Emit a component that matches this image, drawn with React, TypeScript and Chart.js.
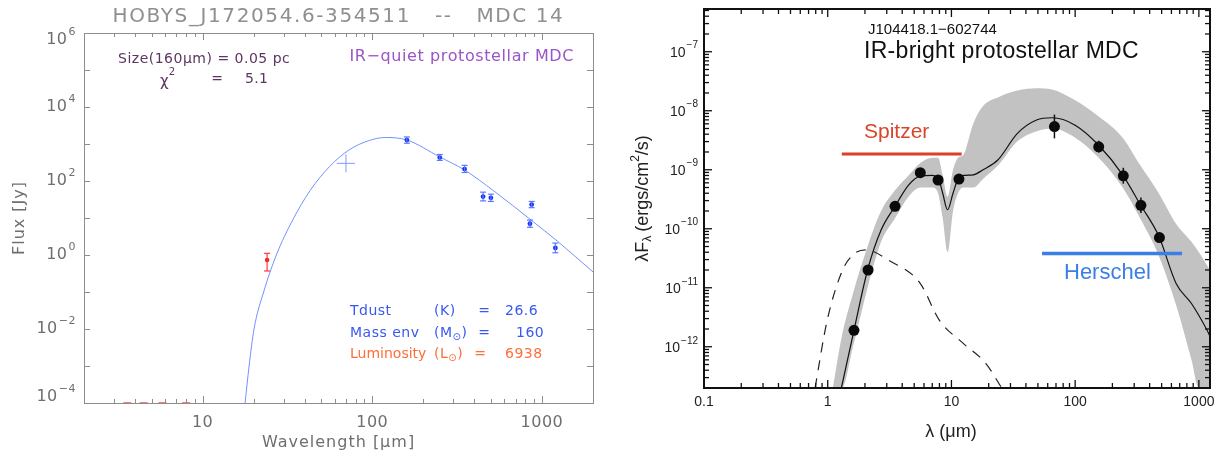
import React, { useEffect, useRef } from "react";
import { Chart, registerables } from "chart.js";
Chart.register(...registerables);

// ================= LEFT PANEL DATA (HOBYS MDC 14) =================
const leftTitle = "HOBYS_J172054.6-354511   --   MDC 14";
const leftModelWavelength = [17.8, 18.8, 20.1, 22.9, 27.2, 34, 43, 56, 73, 96, 120, 160, 250, 350, 520, 870, 1230, 2000];
const leftModelFlux = [1e-4, 1e-3, 1e-2, 0.1, 1, 8.9, 55, 245, 690, 1245, 1500, 1280, 446, 198, 54, 8.55, 2.39, 0.348];
const leftBlueWavelength = [160, 250, 350, 450, 500, 850, 870, 1200];
const leftBlueFlux = [1280, 430, 210, 38, 35, 7, 23, 1.55];
const leftBlueErrLow = [1050, 360, 170, 29, 28, 5.6, 19, 1.15];
const leftBlueErrHigh = [1550, 520, 265, 50, 44, 8.8, 28, 2.1];
const leftRedWavelength = [24];
const leftRedFlux = [0.73];
const leftRedErrLow = [0.37];
const leftRedErrHigh = [1.11];
const leftCrossWavelength = [70];
const leftCrossFlux = [300];
const leftLimitWavelength = [3.6, 4.5, 5.8, 8.0];
const leftLimitFlux = [1e-4, 1e-4, 1e-4, 1e-4];
const leftXTickValues = [10, 100, 1000];
const leftXTickLabels = ["10", "100", "1000"];
const leftYTickExponents = [-4, -2, 0, 2, 4, 6];

// ================= RIGHT PANEL DATA (J104418.1-602744) =================
const rightName = "J104418.1\u2212602744";
const rightClass = "IR-bright protostellar MDC";
const rightObsWavelength = [1.63, 2.12, 3.5, 5.6, 7.8, 11.5, 68, 155, 245, 340, 480];
const rightObsFlux = [1.9e-12, 2.0e-11, 2.4e-10, 8.9e-10, 6.7e-10, 6.95e-10, 5.4e-9, 2.45e-9, 7.9e-10, 2.5e-10, 7.1e-11];
const rightObsErrLow = [1.9e-12, 2.0e-11, 2.4e-10, 8.9e-10, 6.7e-10, 6.95e-10, 3.4e-9, 1.95e-9, 5.8e-10, 1.85e-10, 6.0e-11];
const rightObsErrHigh = [1.9e-12, 2.0e-11, 2.4e-10, 8.9e-10, 6.7e-10, 6.95e-10, 8.6e-9, 3.1e-9, 1.08e-9, 3.4e-10, 8.4e-11];
const rightModelWavelength = [1.29, 1.63, 2.1, 2.7, 3.5, 4.5, 5.6, 7.0, 7.8, 8.5, 9.3, 10.3, 11.3, 12.5, 15, 18, 23.7, 34, 48.7, 65, 100, 155, 242, 335, 474, 656, 871, 1165, 1230];
const rightModelFlux = [2e-13, 1.9e-12, 2e-11, 9.5e-11, 2.4e-10, 5.5e-10, 7.8e-10, 8.0e-10, 7.3e-10, 4e-10, 2.1e-10, 4e-10, 7e-10, 8e-10, 8.2e-10, 1.0e-9, 1.46e-9, 4.1e-9, 6.95e-9, 7.6e-9, 5.7e-9, 2.6e-9, 8.2e-10, 2.6e-10, 7.5e-11, 1.17e-11, 5.4e-12, 1.9e-12, 1.5e-12];
const rightStarWavelength = [0.79, 0.99, 1.32, 1.65, 2.03, 3.13, 5.57, 8.0, 12.4, 19, 25.5];
const rightStarFlux = [2e-13, 2.8e-12, 2e-11, 3.8e-11, 4.4e-11, 2.9e-11, 1.2e-11, 2.8e-12, 1.15e-12, 5.2e-13, 2e-13];
const rightBandWavelength = [1.1, 1.3, 1.6, 2.1, 2.7, 3.5, 4.5, 5.6, 7.0, 7.8, 8.5, 9.3, 10.3, 11.3, 12.5, 15, 18, 24, 34, 49, 65, 100, 155, 242, 335, 474, 656, 871, 1000, 1230];
const rightBandUpper = [2e-13, 1.5e-12, 8e-12, 5e-11, 2e-10, 4.5e-10, 8e-10, 1.3e-9, 1.6e-9, 1.6e-9, 8e-10, 3.5e-10, 1e-9, 1.6e-9, 1.8e-9, 6e-9, 1.2e-8, 1.7e-8, 2.2e-8, 2.4e-8, 2.3e-8, 1.5e-8, 8e-9, 3.5e-9, 1.2e-9, 4e-10, 1.2e-10, 6e-11, 4e-11, 2e-11];
const rightBandLower = [2e-13, 2e-13, 1e-12, 1e-11, 6e-11, 1.5e-10, 3.5e-10, 5e-10, 5e-10, 4e-10, 1.5e-10, 4e-11, 2e-10, 4e-10, 5e-10, 5e-10, 7e-10, 1.2e-9, 3e-9, 4.5e-9, 5e-9, 3.5e-9, 1.6e-9, 5e-10, 1.5e-10, 3.5e-11, 5e-12, 6e-13, 2e-13, 2e-13];
const rightSpitzerWavelength = [1.3, 12.1];
const rightSpitzerLevel = [1.85e-9, 1.85e-9];
const rightHerschelWavelength = [54, 731];
const rightHerschelLevel = [3.8e-11, 3.8e-11];
const rightXTickValues = [0.1, 1, 10, 100, 1000];
const rightXTickLabels = ["0.1", "1", "10", "100", "1000"];
const rightYTickExponents = [-12, -11, -10, -9, -8, -7];

// ================= helpers =================
const LF = '"DejaVu Sans", sans-serif';
const RF = '"Liberation Sans", Arial, sans-serif';
type Ctx = CanvasRenderingContext2D;

const pts = (xs: number[], ys: number[]) => xs.map((x, i) => ({ x, y: ys[i] }));

function txt(ctx: Ctx, s: string, x: number, y: number, font: string, color: string, align: CanvasTextAlign = "left", spacing = 0) {
  ctx.font = font;
  ctx.fillStyle = color;
  ctx.textAlign = align;
  ctx.textBaseline = "middle";
  (ctx as any).letterSpacing = spacing + "px";
  ctx.fillText(s, x, y);
  (ctx as any).letterSpacing = "0px";
}

type Piece = { t: string; size: number; dy?: number; gap?: number };
function pieces(ctx: Ctx, list: Piece[], x: number, y: number, family: string, color: string, align: "left" | "center" = "left", spacing = 0) {
  let w = 0;
  (ctx as any).letterSpacing = spacing + "px";
  for (const p of list) {
    ctx.font = `${p.size}px ${family}`;
    w += ctx.measureText(p.t).width + (p.gap || 0);
  }
  let cx = align === "center" ? x - w / 2 : x;
  for (const p of list) {
    ctx.font = `${p.size}px ${family}`;
    ctx.fillStyle = color;
    ctx.textAlign = "left";
    ctx.textBaseline = "middle";
    ctx.fillText(p.t, cx, y + (p.dy || 0));
    cx += ctx.measureText(p.t).width + (p.gap || 0);
  }
  (ctx as any).letterSpacing = "0px";
}

function pow10(ctx: Ctx, exp: string, xRight: number, yMid: number, size: number, supSize: number, color: string, family: string, spacing = 0) {
  (ctx as any).letterSpacing = spacing + "px";
  ctx.font = `${size}px ${family}`;
  const wb = ctx.measureText("10").width;
  ctx.font = `${supSize}px ${family}`;
  const ws = ctx.measureText(exp).width;
  (ctx as any).letterSpacing = "0px";
  const x0 = xRight - wb - ws - 1;
  txt(ctx, "10", x0, yMid, `${size}px ${family}`, color, "left", spacing);
  txt(ctx, exp, x0 + wb + 1, yMid - size * 0.5, `${supSize}px ${family}`, color, "left", spacing);
}

function logTicks(min: number, max: number) {
  const out: { v: number; major: boolean }[] = [];
  for (let d = Math.floor(Math.log10(min)) - 1; d <= Math.ceil(Math.log10(max)); d++) {
    for (let m = 1; m <= 9; m++) {
      const v = m * Math.pow(10, d);
      if (v >= min * 0.9999 && v <= max * 1.0001) out.push({ v, major: m === 1 });
    }
  }
  return out;
}

function line(ctx: Ctx, x1: number, y1: number, x2: number, y2: number) {
  ctx.beginPath();
  ctx.moveTo(x1, y1);
  ctx.lineTo(x2, y2);
  ctx.stroke();
}

function errorBars(chart: any, xs: number[], lo: number[], hi: number[], color: string, cap: number, width: number) {
  const { ctx, scales } = chart;
  ctx.save();
  ctx.strokeStyle = color;
  ctx.lineWidth = width;
  xs.forEach((xv, i) => {
    if (lo[i] === hi[i]) return;
    const px = scales.x.getPixelForValue(xv);
    const y1 = scales.y.getPixelForValue(lo[i]);
    const y2 = scales.y.getPixelForValue(hi[i]);
    line(ctx, px, y1, px, y2);
    if (cap > 0) {
      line(ctx, px - cap, y1, px + cap, y1);
      line(ctx, px - cap, y2, px + cap, y2);
    }
  });
  ctx.restore();
}

// ================= LEFT CHART =================
const leftDecor = {
  id: "leftDecor",
  afterDatasetsDraw(chart: any) {
    errorBars(chart, leftBlueWavelength, leftBlueErrLow, leftBlueErrHigh, "#5a78ff", 3, 1.2);
    errorBars(chart, leftRedWavelength, leftRedErrLow, leftRedErrHigh, "#ff3a3a", 3, 1.2);
  },
  afterDraw(chart: any) {
    const { ctx, chartArea: a, scales } = chart;
    const x = scales.x, y = scales.y;
    ctx.save();
    ctx.strokeStyle = "#8c8c8c";
    ctx.lineWidth = 1;
    ctx.strokeRect(a.left + 0.5, a.top + 0.5, a.right - a.left, a.bottom - a.top);
    for (const t of logTicks(x.min, x.max)) {
      const px = Math.round(x.getPixelForValue(t.v)) + 0.5;
      const len = t.major ? 7 : 4;
      line(ctx, px, a.bottom, px, a.bottom - len);
      line(ctx, px, a.top, px, a.top + len);
    }
    for (let k = -4; k <= 6; k++) {
      const py = Math.round(y.getPixelForValue(Math.pow(10, k))) + 0.5;
      line(ctx, a.left, py, a.left + 6, py);
      line(ctx, a.right, py, a.right - 6, py);
    }
    const gray = "#6f6f6f";
    leftXTickValues.forEach((v, i) => {
      txt(ctx, leftXTickLabels[i], x.getPixelForValue(v), 423, `16px ${LF}`, gray, "center", 0.5);
    });
    leftYTickExponents.forEach((k) => {
      let py = y.getPixelForValue(Math.pow(10, k));
      py = Math.min(Math.max(py, a.top + 7), a.bottom - 6);
      pow10(ctx, k < 0 ? "\u2212" + Math.abs(k) : String(k), 76, py, 16, 11, gray, LF, 0.5);
    });
    // title & axis titles
    txt(ctx, leftTitle, (a.left + a.right) / 2, 17, `20px ${LF}`, "#8f8f8f", "center", 1.6);
    txt(ctx, "Wavelength [\u03bcm]", (a.left + a.right) / 2, 443, `16px ${LF}`, gray, "center", 1);
    ctx.save();
    ctx.translate(20, (a.top + a.bottom) / 2);
    ctx.rotate(-Math.PI / 2);
    txt(ctx, "Flux [Jy]", 0, 0, `16px ${LF}`, gray, "center", 1);
    ctx.restore();
    // annotations
    const dark = "#5c3560";
    txt(ctx, "Size(160\u03bcm) = 0.05 pc", 118, 59, `14px ${LF}`, dark, "left", 0.5);
    pieces(ctx, [{ t: "\u03c7", size: 15, dy: 3 }, { t: "2", size: 10, dy: -7 }], 160, 79, LF, dark);
    txt(ctx, "=", 217, 79, `14px ${LF}`, dark, "center");
    txt(ctx, "5.1", 245, 79, `14px ${LF}`, dark, "left", 0.3);
    txt(ctx, "IR\u2212quiet protostellar MDC", 574, 57, `16px ${LF}`, "#9a55c8", "right", 0.6);
    const blue = "#3a58f2";
    const orange = "#ff6d3a";
    const F = `14px ${LF}`;
    txt(ctx, "Tdust", 350, 311, F, blue, "left", 0.5);
    txt(ctx, "(K)", 434, 311, F, blue, "left", 0.5);
    txt(ctx, "=", 484, 311, F, blue, "center");
    txt(ctx, "26.6", 505, 311, F, blue, "left", 0.5);
    txt(ctx, "Mass env", 350, 333, F, blue, "left", 0.5);
    pieces(ctx, [{ t: "(M", size: 14 }, { t: "\u2299", size: 10, dy: 4 }, { t: ")", size: 14 }], 434, 333, LF, blue, "left", 0.5);
    txt(ctx, "=", 484, 333, F, blue, "center");
    txt(ctx, "160", 516, 333, F, blue, "left", 0.5);
    txt(ctx, "Luminosity", 350, 354, F, orange, "left", 0);
    pieces(ctx, [{ t: "(L", size: 14 }, { t: "\u2299", size: 10, dy: 4 }, { t: ")", size: 14 }], 434, 354, LF, orange, "left", 0.5);
    txt(ctx, "=", 480, 354, F, orange, "center");
    txt(ctx, "6938", 505, 354, F, orange, "left", 0.5);
    ctx.restore();
  },
};

function leftConfig(): any {
  return {
    type: "line",
    data: {
      datasets: [
        {
          data: pts(leftModelWavelength, leftModelFlux),
          borderColor: "#7391ff",
          borderWidth: 1,
          pointRadius: 0,
          cubicInterpolationMode: "monotone",
          fill: false,
          order: 10,
        },
        {
          data: pts(leftBlueWavelength, leftBlueFlux),
          showLine: false,
          pointRadius: 2.4,
          pointBackgroundColor: "#1436f0",
          pointBorderColor: "#1436f0",
          pointBorderWidth: 0,
          order: 1,
        },
        {
          data: pts(leftRedWavelength, leftRedFlux),
          showLine: false,
          pointRadius: 2.2,
          pointBackgroundColor: "#f01818",
          pointBorderColor: "#f01818",
          pointBorderWidth: 0,
          order: 1,
        },
        {
          data: pts(leftCrossWavelength, leftCrossFlux),
          showLine: false,
          pointStyle: "cross",
          pointRadius: 9,
          pointBorderColor: "#7f9bff",
          pointBorderWidth: 1,
          order: 1,
        },
        {
          data: pts(leftLimitWavelength, leftLimitFlux),
          showLine: false,
          pointStyle: "line",
          pointRadius: 4,
          pointBorderColor: "#ff4a4a",
          pointBorderWidth: 1.5,
          clip: false,
          order: 1,
        },
      ],
    },
    options: {
      responsive: false,
      animation: false,
      events: [],
      layout: { padding: { left: 84, right: 17, top: 33, bottom: 55 } },
      scales: {
        x: { type: "logarithmic", min: 2, max: 2000, display: false },
        y: { type: "logarithmic", min: 1e-4, max: 1e6, display: false },
      },
      plugins: { legend: { display: false }, tooltip: { enabled: false } },
    },
    plugins: [leftDecor],
  };
}

// ================= RIGHT CHART =================
const rightDecor = {
  id: "rightDecor",
  afterDatasetsDraw(chart: any) {
    errorBars(chart, rightObsWavelength, rightObsErrLow, rightObsErrHigh, "#111", 0, 1.5);
  },
  afterDraw(chart: any) {
    const { ctx, chartArea: a, scales } = chart;
    const x = scales.x, y = scales.y;
    ctx.save();
    ctx.strokeStyle = "#111";
    ctx.lineWidth = 2;
    ctx.strokeRect(a.left, a.top, a.right - a.left, a.bottom - a.top);
    ctx.lineWidth = 1.3;
    for (const t of logTicks(x.min, x.max)) {
      const px = x.getPixelForValue(t.v);
      const len = t.major ? 8 : 5;
      line(ctx, px, a.bottom, px, a.bottom - len);
      line(ctx, px, a.top, px, a.top + len);
    }
    for (const t of logTicks(y.min, y.max)) {
      const py = y.getPixelForValue(t.v);
      const len = t.major ? 8 : 5;
      line(ctx, a.left, py, a.left + len, py);
      line(ctx, a.right, py, a.right - len, py);
    }
    const ink = "#222";
    rightXTickValues.forEach((v, i) => {
      txt(ctx, rightXTickLabels[i], x.getPixelForValue(v), 402, `14px ${RF}`, ink, "center");
    });
    rightYTickExponents.forEach((k) => {
      const py = y.getPixelForValue(Math.pow(10, k));
      pow10(ctx, "\u2212" + Math.abs(k), 88, py + 1, 14, 10, ink, RF);
    });
    txt(ctx, "\u03bb (\u03bcm)", (a.left + a.right) / 2 - 6, 432, `18px ${RF}`, ink, "center");
    ctx.save();
    ctx.translate(33, (a.top + a.bottom) / 2);
    ctx.rotate(-Math.PI / 2);
    pieces(
      ctx,
      [
        { t: "\u03bbF", size: 18 },
        { t: "\u03bb", size: 12, dy: 5, gap: 4 },
        { t: "(ergs/cm", size: 18 },
        { t: "2", size: 12, dy: -7 },
        { t: "/s)", size: 18 },
      ],
      0,
      0,
      RF,
      ink,
      "center"
    );
    ctx.restore();
    txt(ctx, rightName, 258, 30, `15px ${RF}`, "#111", "left");
    txt(ctx, rightClass, 254, 52, `23px ${RF}`, "#111", "left", 0.3);
    txt(ctx, "Spitzer", 254, 132, `21px ${RF}`, "#d8452a", "left");
    txt(ctx, "Herschel", 454, 273, `22px ${RF}`, "#3b7fe3", "left");
    ctx.restore();
  },
};

function rightConfig(): any {
  return {
    type: "line",
    data: {
      datasets: [
        {
          data: pts(rightBandWavelength, rightBandUpper),
          borderColor: "rgba(0,0,0,0)",
          borderWidth: 0,
          pointRadius: 0,
          backgroundColor: "#c2c2c2",
          fill: "+1",
          cubicInterpolationMode: "monotone",
          order: 20,
        },
        {
          data: pts(rightBandWavelength, rightBandLower),
          borderColor: "rgba(0,0,0,0)",
          borderWidth: 0,
          pointRadius: 0,
          fill: false,
          cubicInterpolationMode: "monotone",
          order: 21,
        },
        {
          data: pts(rightStarWavelength, rightStarFlux),
          borderColor: "#222",
          borderWidth: 1.2,
          borderDash: [10, 8],
          pointRadius: 0,
          fill: false,
          cubicInterpolationMode: "monotone",
          order: 6,
        },
        {
          data: pts(rightModelWavelength, rightModelFlux),
          borderColor: "#111",
          borderWidth: 1.2,
          pointRadius: 0,
          fill: false,
          cubicInterpolationMode: "monotone",
          order: 5,
        },
        {
          data: pts(rightSpitzerWavelength, rightSpitzerLevel),
          borderColor: "#d8412a",
          borderWidth: 3,
          pointRadius: 0,
          fill: false,
          order: 4,
        },
        {
          data: pts(rightHerschelWavelength, rightHerschelLevel),
          borderColor: "#3a80e4",
          borderWidth: 3.5,
          pointRadius: 0,
          fill: false,
          order: 3,
        },
        {
          data: pts(rightObsWavelength, rightObsFlux),
          showLine: false,
          pointRadius: 5.5,
          pointBackgroundColor: "#0a0a0a",
          pointBorderColor: "#0a0a0a",
          pointBorderWidth: 0,
          order: 1,
        },
      ],
    },
    options: {
      responsive: false,
      animation: false,
      events: [],
      layout: { padding: { left: 94, right: 9, top: 9, bottom: 70 } },
      scales: {
        x: { type: "logarithmic", min: 0.1, max: 1230, display: false },
        y: { type: "logarithmic", min: 2e-13, max: 5.3e-7, display: false },
      },
      plugins: { legend: { display: false }, tooltip: { enabled: false }, filler: { propagate: false } },
    },
    plugins: [rightDecor],
  };
}

function ChartCanvas({ config, width, height, left }: { config: () => any; width: number; height: number; left: number }) {
  const ref = useRef<HTMLCanvasElement | null>(null);
  useEffect(() => {
    if (!ref.current) return;
    const chart = new Chart(ref.current, config());
    return () => chart.destroy();
  }, [config]);
  return (
    <canvas
      ref={ref}
      width={width}
      height={height}
      style={{ position: "absolute", left, top: 0, width, height }}
    />
  );
}

export default function App() {
  return (
    <div style={{ position: "absolute", left: 0, top: 0, width: 1219, height: 458, background: "#fff", overflow: "hidden" }}>
      <ChartCanvas config={leftConfig} width={610} height={458} left={0} />
      <ChartCanvas config={rightConfig} width={609} height={458} left={610} />
    </div>
  );
}
